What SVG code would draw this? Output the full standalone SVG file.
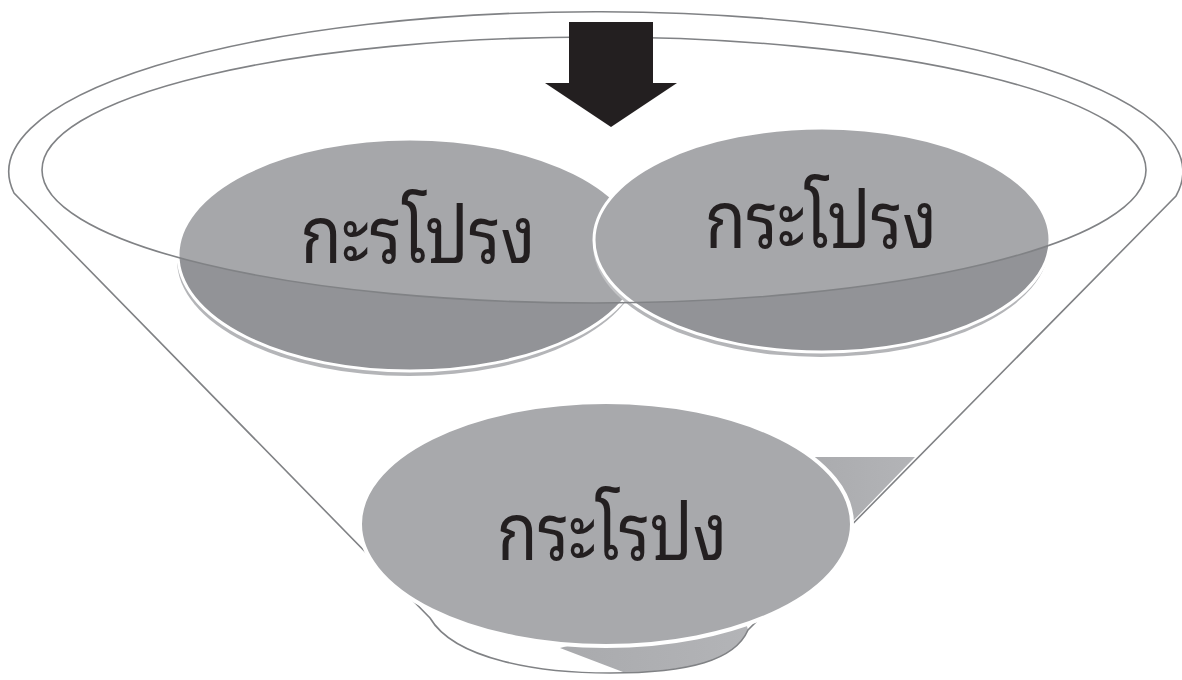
<svg xmlns="http://www.w3.org/2000/svg" width="1182" height="680" viewBox="0 0 1182 680">
<defs>
<style>
.outline{fill:none;stroke:#808285;stroke-width:1.6}
.node{fill:#929397;stroke:#ffffff;stroke-width:3}
.rim{fill:#b4b5b8}
.lbl{font-family:"Noto Sans Thai Looped","Loma","Garuda","Tlwg Typo","Noto Sans Thai","Noto Sans",sans-serif;font-size:80px;fill:#231f20;text-anchor:middle}
</style>
<linearGradient id="gr" x1="0" y1="0" x2="1" y2="0">
<stop offset="0" stop-color="#a9aaad"/>
<stop offset="1" stop-color="#b3b4b7"/>
</linearGradient>
</defs>
<rect width="1182" height="680" fill="#ffffff"/>
<g id="funnel">
<path d="M 800,457 L 915,457 L 853,521 L 800,521 Z" fill="url(#gr)"/>
<path d="M 560,648 L 623,672 C 690,672 735,660 748,630 L 740,600 Z" fill="url(#gr)"/>
<path class="outline" d="M 14,193 A 587,160 0 1 1 1176,196 L 748,630 C 735,660 690,673 610,673 C 540,673 455,660 430,618 Z"/>
</g>
<g id="node1">
<ellipse class="rim" cx="409" cy="260" rx="232" ry="116"/>
<ellipse class="node" cx="410" cy="255" rx="232" ry="116"/>
</g>
<g id="node2">
<ellipse class="rim" cx="821" cy="245" rx="228" ry="112"/>
<ellipse class="node" cx="822" cy="240" rx="228" ry="112"/>
</g>
<g id="rim-inner">
<ellipse cx="594" cy="170" rx="552" ry="133" fill="#ffffff" fill-opacity="0.19" stroke="#808285" stroke-width="1.6"/>
</g>
<g id="node3">
<ellipse cx="606" cy="524" rx="246" ry="122" fill="#a8a9ac" stroke="#ffffff" stroke-width="4"/>
</g>
<g id="labels">
<text class="lbl" x="418" y="263" textLength="235" lengthAdjust="spacingAndGlyphs">กะรโปรง</text>
<text class="lbl" x="821" y="248" textLength="232" lengthAdjust="spacingAndGlyphs">กระโปรง</text>
<text class="lbl" x="612" y="560" textLength="230" lengthAdjust="spacingAndGlyphs">กระโรปง</text>
</g>
<g id="arrow">
<polygon points="569,22 653,22 653,83 677,83 611,127 545,83 569,83" fill="#231f20"/>
</g>
</svg>
